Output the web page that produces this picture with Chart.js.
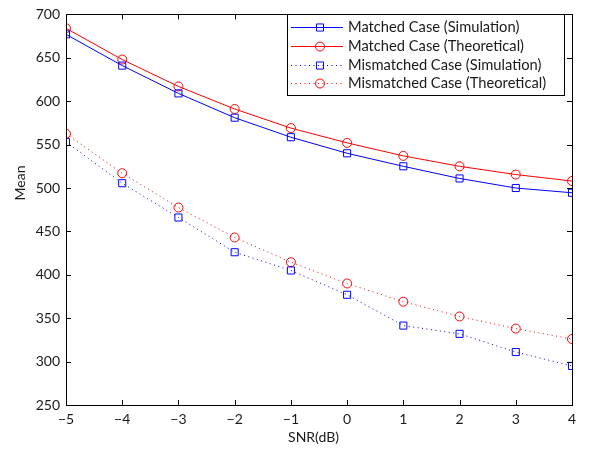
<!DOCTYPE html>
<html><head><meta charset="utf-8">
<script src="https://cdn.jsdelivr.net/npm/chart.js@4/dist/chart.umd.min.js"></script>
<style>html,body{margin:0;padding:0;background:#fff}#wrap{width:597px;height:451px}</style>
</head><body><div id="wrap"><canvas id="c" width="597" height="451"></canvas></div>
<script>
const snr = [-5, -4, -3, -2, -1, 0, 1, 2, 3, 4];
const matchedSim = [677, 641, 609, 581, 558.5, 540, 525, 511, 500, 494.5];
const matchedTheo = [684, 648, 617, 591, 569, 552, 537, 525, 515.5, 508];
const mismatchedSim = [553, 505.5, 466, 426, 405, 377, 341.5, 332, 311, 295];
const mismatchedTheo = [562.5, 517, 477.5, 443, 414.5, 390, 369, 352, 338, 326];
const xTicks = [-5, -4, -3, -2, -1, 0, 1, 2, 3, 4];
const yTicks = [250, 300, 350, 400, 450, 500, 550, 600, 650, 700];
const labels = ['Matched Case (Simulation)', 'Matched Case (Theoretical)', 'Mismatched Case (Simulation)', 'Mismatched Case (Theoretical)'];
const xTitle = 'SNR(dB)';
const yTitle = 'Mean';

const FONT = 'Lato, "DejaVu Sans", sans-serif';
const TXT = '#1a1a1a';
const toPts = arr => arr.map((v, i) => ({x: snr[i], y: v}));
const mk = (label, data, color, shape, dashed) => ({
  label, data: toPts(data), borderColor: color, backgroundColor: 'rgba(0,0,0,0)',
  borderWidth: 1, pointStyle: shape, pointRadius: shape === 'rect' ? 5 : 4.5,
  pointBorderColor: color, pointBorderWidth: 1, pointBackgroundColor: 'rgba(0,0,0,0)',
  borderDash: dashed ? [1, 3.5] : [], tension: 0, fill: false
});

const frame = {
  id: 'frame',
  afterDraw(chart) {
    const ctx = chart.ctx, a = chart.chartArea;
    const xs = chart.scales.x, ys = chart.scales.y;
    ctx.save();
    ctx.strokeStyle = '#000'; ctx.lineWidth = 1;
    ctx.strokeRect(Math.round(a.left) + 0.5, Math.round(a.top) + 0.5, Math.round(a.right - a.left), Math.round(a.bottom - a.top));
    const L = 5;
    ctx.beginPath();
    xTicks.forEach(v => {
      const px = Math.round(xs.getPixelForValue(v)) + 0.5;
      ctx.moveTo(px, a.bottom); ctx.lineTo(px, a.bottom - L);
      ctx.moveTo(px, a.top); ctx.lineTo(px, a.top + L);
    });
    yTicks.forEach(v => {
      const py = Math.round(ys.getPixelForValue(v)) + 0.5;
      ctx.moveTo(a.left, py); ctx.lineTo(a.left + L, py);
      ctx.moveTo(a.right, py); ctx.lineTo(a.right - L, py);
    });
    ctx.stroke();
    // axis titles
    ctx.fillStyle = TXT;
    ctx.font = '14px ' + FONT; ctx.textAlign = 'center'; ctx.textBaseline = 'middle';
    ctx.fillText(xTitle, 313.5, 437);
    ctx.save(); ctx.translate(20, 183); ctx.rotate(-Math.PI / 2);
    ctx.fillText(yTitle, 0, 0); ctx.restore();
    // legend
    const bx = 287.5, by = 14.5, bw = 277, bh = 81;
    ctx.fillStyle = '#fff'; ctx.fillRect(bx, by, bw, bh);
    ctx.lineWidth = 1; ctx.strokeStyle = '#000'; ctx.strokeRect(bx, by, bw, bh);
    ctx.font = '14.7px ' + FONT; ctx.textBaseline = 'middle'; ctx.textAlign = 'left';
    chart.data.datasets.forEach((ds, i) => {
      const y = Math.round(27 + i * 18.8) + 0.5;
      ctx.strokeStyle = ds.borderColor; ctx.lineWidth = 1;
      ctx.setLineDash(ds.borderDash || []);
      ctx.beginPath(); ctx.moveTo(291, y); ctx.lineTo(343, y); ctx.stroke();
      ctx.setLineDash([]);
      ctx.fillStyle = 'rgba(0,0,0,0)';
      ctx.strokeStyle = ds.borderColor;
      Chart.helpers.drawPoint(ctx, {pointStyle: ds.pointStyle, radius: ds.pointRadius, borderWidth: 1}, 320, y);
      ctx.fillStyle = TXT;
      ctx.fillText(ds.label, 348, y);
    });
    ctx.restore();
  }
};

new Chart(document.getElementById('c'), {
  type: 'line',
  data: { datasets: [
    mk(labels[0], matchedSim, '#0000ff', 'rect', false),
    mk(labels[1], matchedTheo, '#ff0000', 'circle', false),
    mk(labels[2], mismatchedSim, '#0000ff', 'rect', true),
    mk(labels[3], mismatchedTheo, '#ff0000', 'circle', true)
  ]},
  options: {
    responsive: false, animation: false, devicePixelRatio: 1,
    layout: { padding: { left: 0, right: 25, top: 7, bottom: 0 } },
    plugins: { legend: { display: false }, tooltip: { enabled: false } },
    scales: {
      x: {
        type: 'linear', min: -5, max: 4,
        afterBuildTicks: s => { s.ticks = xTicks.map(v => ({value: v})); },
        afterFit: s => { s.height = 46; },
        grid: { display: false, drawTicks: false },
        border: { display: true, color: '#000', width: 1 },
        ticks: { color: TXT, font: { size: 14, family: FONT }, padding: 6,
          callback: v => String(v).replace('-', '\u2212') },
        title: { display: false }
      },
      y: {
        min: 250, max: 700,
        afterBuildTicks: s => { s.ticks = yTicks.map(v => ({value: v})); },
        afterFit: s => { s.width = 66; },
        grid: { display: false, drawTicks: false },
        border: { display: true, color: '#000', width: 1 },
        ticks: { color: TXT, font: { size: 14, family: FONT }, padding: 6 },
        title: { display: false }
      }
    }
  },
  plugins: [frame]
});
</script></body></html>
